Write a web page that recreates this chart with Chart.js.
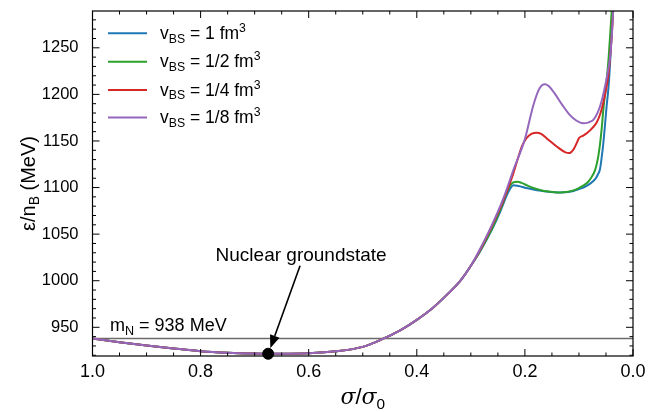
<!DOCTYPE html>
<html lang="en">
<head>
<meta charset="UTF-8">
<title>Energy per baryon vs sigma</title>
<script src="https://cdn.jsdelivr.net/npm/chart.js"></script>
<style>
  html, body { margin: 0; padding: 0; background: #fff; }
  canvas { display: block; }
</style>
</head>
<body>
<canvas id="eosChart" width="661" height="412"></canvas>
<script>
// common low-density branch (identical for every v_BS)
const sigmaCommon  = [1.0, 0.95, 0.9, 0.85, 0.8, 0.75, 0.7, 0.675, 0.65, 0.6, 0.55, 0.5, 0.465, 0.43, 0.4, 0.37, 0.345, 0.32, 0.3];
const energyCommon = [938, 934, 930.5, 927.3, 924.4, 922.7, 921.8, 921.6, 921.6, 922.1, 924.2, 929, 937, 947, 958, 971, 984.5, 999.5, 1016];

// high-density branches, one per excluded volume
const sigmaV1   = [0.283, 0.26, 0.245, 0.234, 0.227, 0.2215, 0.214, 0.206, 0.195, 0.1845, 0.17, 0.16, 0.145, 0.135, 0.12, 0.11, 0.1, 0.09, 0.08, 0.07, 0.065, 0.061, 0.058, 0.055, 0.052, 0.049, 0.045, 0.042, 0.039, 0.036];
const energyV1  = [1031.5, 1056, 1075, 1091, 1099, 1102.5, 1102, 1100.8, 1099.2, 1098, 1096.6, 1095.8, 1095, 1094.8, 1095.2, 1096.3, 1098.3, 1100.5, 1104, 1109, 1114, 1120, 1132, 1147, 1166, 1186, 1210, 1238, 1272, 1312];

const sigmaV2   = [0.283, 0.26, 0.245, 0.234, 0.227, 0.2215, 0.214, 0.206, 0.195, 0.1845, 0.17, 0.16, 0.145, 0.135, 0.12, 0.11, 0.1, 0.0857, 0.078, 0.07, 0.065, 0.061, 0.058, 0.055, 0.052, 0.0488, 0.045, 0.041, 0.037];
const energyV2  = [1032, 1057, 1077, 1094, 1102.5, 1105.5, 1106.2, 1105, 1102, 1099.5, 1097.2, 1096, 1095, 1094.8, 1095.5, 1097, 1099.5, 1104.5, 1110, 1119, 1131, 1147, 1163, 1183, 1199, 1215, 1240, 1275, 1312];

const sigmaV4   = [0.283, 0.26, 0.24, 0.222, 0.212, 0.205, 0.197, 0.188, 0.178, 0.17, 0.16, 0.14, 0.125, 0.118, 0.11, 0.104, 0.1, 0.093, 0.085, 0.075, 0.067, 0.06, 0.055, 0.05, 0.0457, 0.042, 0.038, 0.035];
const energyV4  = [1033, 1060, 1086, 1114, 1133, 1145, 1153, 1157.5, 1158.8, 1157.5, 1153, 1143.5, 1137.8, 1137, 1141, 1148, 1153, 1155.5, 1158.5, 1164, 1170, 1180, 1191, 1205, 1220, 1242, 1275, 1310];

const sigmaV8   = [0.283, 0.26, 0.24, 0.22, 0.2, 0.185, 0.175, 0.168, 0.162, 0.155, 0.145, 0.13, 0.117, 0.105, 0.092, 0.082, 0.073, 0.065, 0.058, 0.052, 0.046, 0.042, 0.038, 0.035];
const energyV8  = [1034, 1061, 1088, 1121, 1152, 1187, 1204, 1210, 1211, 1208.5, 1201, 1188, 1178, 1172, 1169, 1170, 1173, 1181, 1193, 1208, 1226, 1242, 1275, 1310];

const vbsLabels  = ['1', '1/2', '1/4', '1/8'];
const lineColors = ['#1f77b4', '#2ca02c', '#d62728', '#9467bd'];

const nucleonMass  = 938;
const groundSigma  = [0.675];
const groundEnergy = [921.6];

const xTicks = [1.0, 0.8, 0.6, 0.4, 0.2, 0.0];
const yTicks = [950, 1000, 1050, 1100, 1150, 1200, 1250];

const FONT = '"Liberation Sans", Arial, sans-serif';

function toPoints(xs, ys) {
    return xs.map((x, i) => ({ x: x, y: ys[i] }));
}

const branches = [[sigmaV1, energyV1], [sigmaV2, energyV2], [sigmaV4, energyV4], [sigmaV8, energyV8]];

const datasets = branches.map((b, i) => ({
    label: 'v_BS = ' + vbsLabels[i] + ' fm^3',
    data: toPoints(sigmaCommon, energyCommon).concat(toPoints(b[0], b[1])),
    borderColor: lineColors[i],
    backgroundColor: lineColors[i],
    borderWidth: 2,
    pointRadius: 0,
    showLine: true,
    cubicInterpolationMode: 'monotone',
    order: 3 - i   // purple on top like the original
}));

datasets.push({
    label: 'mN',
    data: [{ x: 1, y: nucleonMass }, { x: 0, y: nucleonMass }],
    borderColor: '#6b6b6b',
    borderWidth: 1.3,
    pointRadius: 0,
    showLine: true,
    order: 5
});

datasets.push({
    label: 'groundstate',
    data: toPoints(groundSigma, groundEnergy),
    backgroundColor: '#000',
    borderColor: '#000',
    pointRadius: 5.5,
    showLine: false,
    clip: false,
    order: -1
});

// text with sub/superscripts: parts = [[text, mode]], mode '', 'sub', 'sup', 'it'
function fontFor(mode, size) {
    if (mode === 'sub' || mode === 'sup') return (size * 0.7) + 'px ' + FONT;
    if (mode === 'it') return 'italic ' + size + 'px "DejaVu Serif", serif';
    return size + 'px ' + FONT;
}

function drawRich(ctx, parts, x, y, size, align) {
    const widths = parts.map(p => { ctx.font = fontFor(p[1], size); return ctx.measureText(p[0]).width; });
    const total = widths.reduce((a, b) => a + b, 0);
    let cx = align === 'center' ? x - total / 2 : x;
    ctx.textAlign = 'left';
    ctx.textBaseline = 'alphabetic';
    parts.forEach((p, i) => {
        ctx.font = fontFor(p[1], size);
        let dy = 0;
        if (p[1] === 'sub') dy = size * 0.22;
        if (p[1] === 'sup') dy = -size * 0.4;
        ctx.fillText(p[0], cx, y + dy);
        cx += widths[i];
    });
}

const decorPlugin = {
    id: 'decor',
    afterDraw(chart) {
        const ctx = chart.ctx;
        const area = chart.chartArea;
        const xs = chart.scales.x, ys = chart.scales.y;
        ctx.save();
        ctx.strokeStyle = '#000';
        ctx.fillStyle = '#000';

        // frame
        ctx.lineWidth = 1.2;
        ctx.strokeRect(area.left, area.top, area.right - area.left, area.bottom - area.top);

        // inward ticks on all four sides
        ctx.lineWidth = 1;
        ctx.beginPath();
        for (let k = 0; k <= 20; k++) {
            const v = k * 0.05;
            const px = xs.getPixelForValue(v);
            const len = (k % 4 === 0) ? 7 : 3.5;
            ctx.moveTo(px, area.bottom); ctx.lineTo(px, area.bottom - len);
            ctx.moveTo(px, area.top); ctx.lineTo(px, area.top + len);
        }
        for (let v = 920; v <= 1289; v += 10) {
            const py = ys.getPixelForValue(v);
            const len = (v % 50 === 0) ? 7 : 3.5;
            ctx.moveTo(area.left, py); ctx.lineTo(area.left + len, py);
            ctx.moveTo(area.right, py); ctx.lineTo(area.right - len, py);
        }
        ctx.stroke();

        // legend
        const rowY = [33.3, 61.7, 90, 117.5];
        datasets.slice(0, 4).forEach((ds, i) => {
            ctx.strokeStyle = ds.borderColor;
            ctx.lineWidth = 2;
            ctx.beginPath();
            ctx.moveTo(108, rowY[i]); ctx.lineTo(147, rowY[i]);
            ctx.stroke();
            ctx.fillStyle = '#000';
            drawRich(ctx, [['v', ''], ['BS', 'sub'], [' = ' + vbsLabels[i] + ' fm', ''], ['3', 'sup']], 160, rowY[i] + 5.5, 17.5, 'left');
        });

        // nucleon mass label
        drawRich(ctx, [['m', ''], ['N', 'sub'], [' = ' + nucleonMass + ' MeV', '']], 110, 331, 18, 'left');

        // groundstate annotation with arrow
        ctx.fillStyle = '#000';
        drawRich(ctx, [['Nuclear groundstate', '']], xs.getPixelForValue(0.614), 261, 19, 'center');
        const tx = xs.getPixelForValue(0.616), ty = ys.getPixelForValue(1016);
        const hx = xs.getPixelForValue(groundSigma[0] - 0.004), hy = ys.getPixelForValue(groundEnergy[0] + 6);
        const ang = Math.atan2(hy - ty, hx - tx);
        const headLen = 13, headW = 5;
        const bx = hx - headLen * Math.cos(ang), by = hy - headLen * Math.sin(ang);
        ctx.strokeStyle = '#000';
        ctx.lineWidth = 1.6;
        ctx.beginPath();
        ctx.moveTo(tx, ty); ctx.lineTo(bx, by);
        ctx.stroke();
        ctx.beginPath();
        ctx.moveTo(hx, hy);
        ctx.lineTo(bx + headW * Math.sin(ang), by - headW * Math.cos(ang));
        ctx.lineTo(bx - headW * Math.sin(ang), by + headW * Math.cos(ang));
        ctx.closePath();
        ctx.fill();

        // axis titles
        drawRich(ctx, [['σ', 'it'], ['/', ''], ['σ', 'it'], ['0', 'sub']], (area.left + area.right) / 2, 404, 22, 'center');
        ctx.save();
        ctx.translate(35, (area.top + area.bottom) / 2);
        ctx.rotate(-Math.PI / 2);
        drawRich(ctx, [['ε/n', ''], ['B', 'sub'], [' (MeV)', '']], 0, 0, 20, 'center');
        ctx.restore();

        ctx.restore();
    }
};

new Chart(document.getElementById('eosChart').getContext('2d'), {
    type: 'scatter',
    data: { datasets: datasets },
    options: {
        responsive: false,
        animation: false,
        layout: { padding: { top: 11, right: 28, left: 0, bottom: 0 } },
        plugins: { legend: { display: false }, tooltip: { enabled: false } },
        scales: {
            x: {
                type: 'linear',
                reverse: true,
                min: 0,
                max: 1,
                grid: { display: false, drawTicks: false },
                border: { display: false },
                ticks: {
                    color: '#000',
                    font: { family: FONT, size: 18 },
                    padding: 5,
                    maxRotation: 0,
                    callback: v => v.toFixed(1)
                },
                afterBuildTicks: s => { s.ticks = xTicks.map(v => ({ value: v })); },
                afterFit: s => { s.height = 56; s.paddingLeft = 0; s.paddingRight = 0; }
            },
            y: {
                type: 'linear',
                min: 919.2,
                max: 1289.5,
                grid: { display: false, drawTicks: false },
                border: { display: false },
                ticks: {
                    color: '#000',
                    font: { family: FONT, size: 16.5 },
                    padding: 14,
                    callback: v => String(v)
                },
                afterBuildTicks: s => { s.ticks = yTicks.map(v => ({ value: v })); },
                afterFit: s => { s.width = 92.5; s.paddingTop = 0; s.paddingBottom = 0; }
            }
        }
    },
    plugins: [decorPlugin]
});
</script>
</body>
</html>
